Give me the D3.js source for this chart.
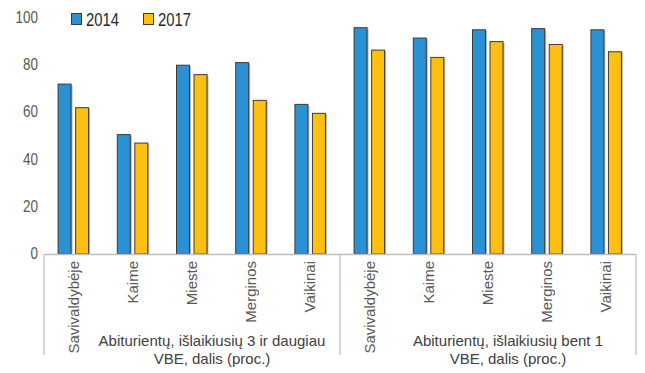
<!DOCTYPE html>
<html><head><meta charset="utf-8">
<script src="https://cdn.jsdelivr.net/npm/d3@7"></script>
<style>body{margin:0;background:#fff}svg{display:block}text{font-family:"Liberation Sans",Arial,sans-serif}</style>
</head><body><svg id="c" width="645" height="373"></svg>
<script>
const categories = ["Savivaldybėje","Kaime","Mieste","Merginos","Vaikinai","Savivaldybėje","Kaime","Mieste","Merginos","Vaikinai"];
const groups = [["Abiturientų, išlaikiusių 3 ir daugiau","VBE, dalis (proc.)"],["Abiturientų, išlaikiusių bent 1","VBE, dalis (proc.)"]];
const seriesNames = ["2014","2017"];
const values2014 = [72, 50.6, 80, 81.1, 63.4, 95.9, 91.5, 95, 95.5, 95];
const values2017 = [62, 47, 76, 65.1, 59.6, 86.4, 83.3, 90, 88.8, 85.7];
const yTicks = [0,20,40,60,80,100];
const colors = ["#2a91d4","#fdc010"];

(function(){
const svg = d3.select("#c");
const pL = 44, pR = 636, pT = 18, pB = 254;
const idx = d3.range(categories.length);
const x = d3.scaleBand().domain(idx).range([pL,pR]).padding(0);
const x1 = d3.scaleBand().domain(seriesNames).range([-15.5,15]).paddingInner(0.26);
const y = d3.scaleLinear().domain([0,100]).range([pB,pT]);
const series = [values2014, values2017];

svg.append("g").selectAll("text").data(yTicks).join("text")
  .attr("transform",d=>`translate(38,${y(d)+5}) scale(0.9,1.05)`)
  .attr("text-anchor","end")
  .attr("font-size",15).attr("fill","#595959").text(d=>d);

const bg = svg.append("g");
series.forEach((vals,si)=>{
  const g = bg.append("g");
  g.selectAll("rect.sh").data(idx).join("rect").attr("class","sh")
    .attr("x",i=>x(i)+x.bandwidth()/2+x1(seriesNames[si])+1.5)
    .attr("y",i=>y(vals[i])+1)
    .attr("width",x1.bandwidth()).attr("height",i=>pB-y(vals[i])-1)
    .attr("fill","#9a9a9a").attr("opacity",0.7);
  g.selectAll("rect.b").data(idx).join("rect").attr("class","b")
    .attr("x",i=>x(i)+x.bandwidth()/2+x1(seriesNames[si]))
    .attr("y",i=>y(vals[i]))
    .attr("width",x1.bandwidth()).attr("height",i=>pB-y(vals[i]))
    .attr("fill",colors[si]).attr("stroke","#3a3a3a").attr("stroke-width",1);
});

svg.append("line").attr("x1",pL).attr("x2",pR).attr("y1",pB+0.5).attr("y2",pB+0.5)
  .attr("stroke","#bfbfbf").attr("stroke-width",1.5);
[0,5,10].forEach(k=>{
  const xx = k<10 ? x(k) : pR;
  svg.append("line").attr("x1",xx).attr("x2",xx).attr("y1",pB).attr("y2",355)
    .attr("stroke","#c8c8c8").attr("stroke-width",1.5);
});

svg.append("g").selectAll("text").data(idx).join("text")
  .attr("transform",i=>`translate(${x(i)+x.bandwidth()/2+5},261) rotate(-90)`)
  .attr("text-anchor","end").attr("font-size",15).attr("fill","#595959")
  .text(i=>categories[i]);

groups.forEach((lines,gi)=>{
  const cx = (x(gi*5) + (gi*5+5<10 ? x(gi*5+5) : pR))/2 + 20;
  lines.forEach((t,li)=>{
    svg.append("text").attr("x",cx).attr("y",346+li*18).attr("text-anchor","middle")
      .attr("font-size",15).attr("fill","#404040").text(t);
  });
});

const lx = [71,143];
seriesNames.forEach((s,si)=>{
  svg.append("rect").attr("x",lx[si]+0.5).attr("y",13.5).attr("width",10).attr("height",11)
    .attr("fill",colors[si]).attr("stroke","#3a3a3a");
  svg.append("text").attr("transform",`translate(${lx[si]+15},26) scale(0.8,1)`)
    .attr("font-size",18.5).attr("fill","#262626").text(s);
});
})();
</script></body></html>
